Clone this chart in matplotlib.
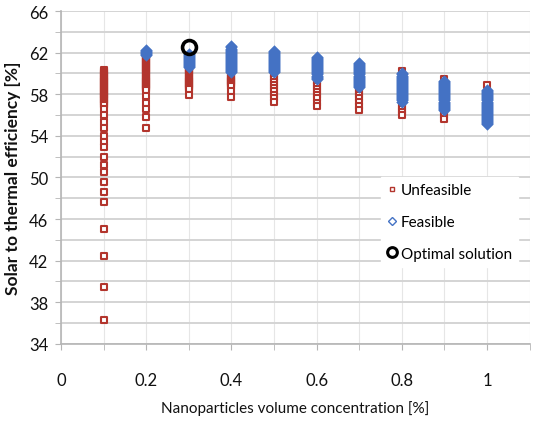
#!/usr/bin/env python3
"""Solar-to-thermal efficiency against nanoparticle volume concentration,
split into unfeasible / feasible designs with the optimum circled."""

import matplotlib

matplotlib.use("Agg")
import matplotlib.pyplot as plt
from matplotlib.lines import Line2D
from matplotlib.ticker import MultipleLocator

RED = "#b3352d"
BLUE = "#4472c4"
GRID = "#d4d4d4"
INK = "#111111"

plt.rcParams["font.family"] = ["Lato", "DejaVu Sans"]

# volume concentration [%] of each design column
CONC = [0.1, 0.2, 0.3, 0.4, 0.5, 0.6, 0.7, 0.8, 0.9, 1.0]

# efficiency [%] of the unfeasible designs, one list per column
UNFEASIBLE = [
    [60.3, 60.2, 60.1, 60.0, 59.9, 59.8, 59.7, 59.6, 59.5, 59.4, 59.3, 59.2,
     59.1, 59.0, 58.9, 58.8, 58.7, 58.6, 58.5, 58.4, 58.3, 58.2, 58.1, 58.0,
     57.9, 57.8, 57.7, 57.6, 57.5, 57.4, 57.3, 57.2, 57.1, 57.0, 56.6, 56.0,
     55.3, 54.8, 54.0, 53.4, 52.9, 52.0, 51.2, 50.5, 49.6, 48.6, 47.6, 45.0,
     42.4, 39.5, 36.3],
    [62.0, 61.9, 61.8, 61.7, 61.6, 61.5, 61.4, 61.3, 61.2, 61.1, 61.0, 60.9,
     60.8, 60.7, 60.6, 60.5, 60.4, 60.3, 60.2, 60.1, 60.0, 59.9, 59.8, 59.7,
     59.6, 59.5, 59.4, 59.3, 59.2, 59.1, 59.0, 58.9, 58.8, 58.7, 58.6, 58.5,
     58.4, 57.8, 57.2, 56.6, 55.8, 54.8],
    [61.4, 61.2, 61.0, 60.8, 60.6, 60.5, 60.4, 60.3, 60.2, 60.1, 60.0, 59.9,
     59.8, 59.7, 59.6, 59.5, 59.4, 59.3, 59.2, 59.1, 59.0, 58.9, 58.8, 58.7,
     58.6, 58.5, 57.9],
    [61.6, 61.2, 60.8, 60.4, 60.0, 59.8, 59.7, 59.6, 59.5, 59.4, 59.3, 59.2,
     59.1, 59.0, 58.9, 58.8, 58.3, 57.7],
    [61.0, 60.6, 60.2, 59.9, 59.7, 59.5, 59.2, 58.9, 58.6, 58.3, 57.9, 57.6,
     57.3],
    [60.4, 60.0, 59.6, 59.3, 59.1, 58.8, 58.5, 58.2, 57.9, 57.6, 57.2, 56.9],
    [59.8, 59.4, 59.0, 58.7, 58.5, 58.2, 57.9, 57.6, 57.3, 56.9, 56.5],
    [60.2, 57.2, 56.9, 56.6, 56.3, 56.0],
    [59.5, 56.4, 56.0, 55.6],
    [58.9],
]

# efficiency [%] of the feasible designs, one list per column
FEASIBLE = [
    [],
    [62.3, 62.2, 62.1, 62.0, 61.9, 61.8],
    [61.9, 61.8, 61.7, 61.6, 61.5, 61.4, 61.3, 61.2, 61.1, 61.0, 60.9, 60.8,
     60.7, 60.6],
    [62.6, 62.5, 62.4, 62.3, 62.2, 62.1, 62.0, 61.9, 61.8, 61.7, 61.6, 61.5,
     61.4, 61.3, 61.2, 61.1, 61.0, 60.9, 60.8, 60.7, 60.6, 60.5, 60.4, 60.3,
     60.2, 60.1],
    [62.2, 62.1, 62.0, 61.9, 61.8, 61.7, 61.6, 61.5, 61.4, 61.3, 61.2, 61.1,
     61.0, 60.9, 60.8, 60.7, 60.6, 60.5, 60.4, 60.3, 60.2, 60.1],
    [61.6, 61.5, 61.4, 61.3, 61.2, 61.1, 61.0, 60.9, 60.8, 60.7, 60.6, 60.5,
     60.4, 60.3, 60.2, 60.1, 60.0, 59.9, 59.8, 59.7, 59.6, 59.5],
    [61.0, 60.9, 60.8, 60.7, 60.6, 60.5, 60.4, 60.3, 60.2, 60.1, 60.0, 59.9,
     59.8, 59.7, 59.6, 59.5, 59.4, 59.3, 59.2, 59.1, 59.0, 58.9, 58.8, 58.7],
    [60.0, 59.9, 59.8, 59.7, 59.6, 59.5, 59.4, 59.3, 59.2, 59.1, 59.0, 58.9,
     58.8, 58.7, 58.6, 58.5, 58.4, 58.3, 58.2, 58.1, 58.0, 57.9, 57.8, 57.7,
     57.6, 57.5, 57.4, 57.3],
    [59.3, 59.2, 59.1, 59.0, 58.9, 58.8, 58.7, 58.6, 58.5, 58.4, 58.3, 58.2,
     58.1, 58.0, 57.9, 57.8, 57.7, 57.6, 57.5, 57.4, 57.3, 57.2, 57.1, 57.0,
     56.9, 56.8, 56.7, 56.6, 56.5],
    [58.4, 58.3, 58.2, 58.1, 58.0, 57.9, 57.8, 57.7, 57.6, 57.5, 57.4, 57.3,
     57.2, 57.1, 57.0, 56.9, 56.8, 56.7, 56.6, 56.5, 56.4, 56.3, 56.2, 56.1,
     56.0, 55.9, 55.8, 55.7, 55.6, 55.5, 55.4, 55.3, 55.2, 55.1],
]

OPTIMUM = (0.3, 62.5)

Y_TICKS = [34, 38, 42, 46, 50, 54, 58, 62, 66]
X_TICKS = [0, 0.2, 0.4, 0.6, 0.8, 1]


def flatten(columns):
    xs, ys = [], []
    for c, vals in zip(CONC, columns):
        xs += [c] * len(vals)
        ys += vals
    return xs, ys


fig = plt.figure(figsize=(5.35, 4.31), dpi=100)
ax = fig.add_axes((0.114, 0.200, 0.876, 0.772))

ux, uy = flatten(UNFEASIBLE)
fx, fy = flatten(FEASIBLE)
ax.scatter(ux, uy, marker="s", s=15, facecolors="white", edgecolors=RED,
           linewidths=1.5, zorder=3)
ax.scatter(fx, fy, marker="D", s=40, color=BLUE, linewidths=0, zorder=4)
ax.plot(*OPTIMUM, marker="o", ms=10, mfc="none", mec="black", mew=2.6,
        ls="none", zorder=5)

ax.set_xlim(0, 1.1)
ax.set_ylim(34, 66)
ax.set_xticks(X_TICKS, [f"{v:g}" for v in X_TICKS])
ax.xaxis.set_minor_locator(MultipleLocator(0.1))
ax.set_yticks(Y_TICKS, [str(v) for v in Y_TICKS])
ax.yaxis.set_minor_locator(MultipleLocator(2))

ax.grid(True, which="both", axis="y", color=GRID, lw=1.4, zorder=0)
ax.grid(True, which="both", axis="x", color="#e6e6e6", lw=0.8, zorder=0)
for side in ("top", "right"):
    ax.spines[side].set_visible(False)
for side in ("left", "bottom"):
    ax.spines[side].set_color("#b5b5b5")
    ax.spines[side].set_linewidth(1.2)

ax.tick_params(axis="both", which="both", color="#b5b5b5", length=4,
               labelsize=12, labelcolor=INK)
ax.tick_params(axis="x", which="both", pad=16)
ax.tick_params(axis="y", which="both", pad=5)

ax.set_xlabel("Nanoparticles volume concentration [%]", fontsize=11,
              color=INK, labelpad=9)
ax.set_ylabel("Solar to thermal efficiency [%]", fontsize=12.5,
              fontweight="bold", color=INK, labelpad=6)

handles = [
    Line2D([], [], marker="s", ls="none", ms=3.5, mfc="white", mec=RED,
           mew=1.0),
    Line2D([], [], marker="D", ls="none", ms=4.5, mfc="white", mec=BLUE,
           mew=1.0),
    Line2D([], [], marker="o", ls="none", ms=7, mfc="none", mec="black",
           mew=2.2),
]
leg = fig.legend(handles, ["Unfeasible", "Feasible", "Optimal solution"],
                 loc="upper left", bbox_to_anchor=(0.698, 0.604),
                 frameon=True, fontsize=11, handlelength=0.6,
                 handletextpad=0.3, labelspacing=1.15, borderpad=0.4,
                 fancybox=False)
leg.get_frame().set_edgecolor("white")
leg.get_frame().set_facecolor("white")
leg.get_frame().set_alpha(1)

fig.savefig("out.png", dpi=100)
